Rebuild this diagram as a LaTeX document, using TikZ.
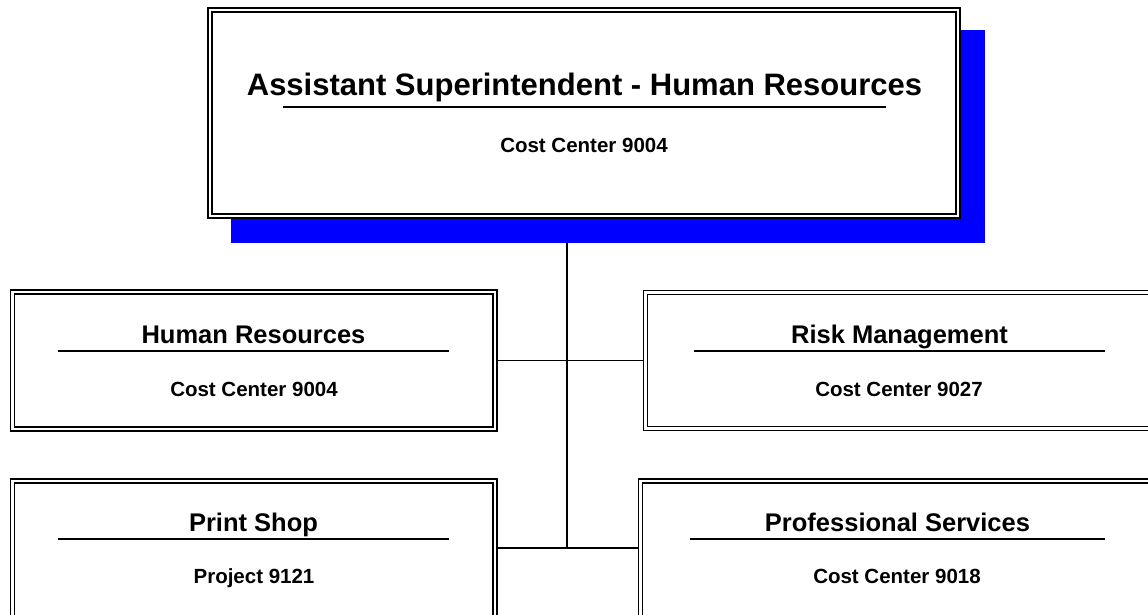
\documentclass[tikz,border=0pt]{standalone}
\usepackage{fontspec}
\setmainfont{Liberation Sans}
\usepackage{tikz}
\usetikzlibrary{positioning,backgrounds,calc}
\definecolor{shadowblue}{HTML}{0000FF}

\begin{document}
\begin{tikzpicture}[
  x=1pt, y=-1pt,
  font=\bfseries,
  orgbox/.style={
    draw=black,
    fill=white,
    double=white,
    double distance=2.2pt,
    line width=1.8pt,
    inner sep=0pt
  },
  dropshadow/.style={
    fill=shadowblue,
    inner sep=0pt
  },
  heading/.style={
    font=\bfseries\fontsize{#1}{#1}\selectfont,
    anchor=base,
    inner xsep=0pt,
    text depth=0pt
  },
  subline/.style={
    font=\bfseries\fontsize{20.5}{24}\selectfont,
    anchor=base,
    inner sep=0pt
  },
  rule/.style={line width=1.6pt},
  link/.style={line width=1.8pt}
]
  \useasboundingbox (0,0) rectangle (1148,615);

  % --- TOP: ASSISTANT SUPERINTENDENT ---
  \node[dropshadow, minimum width=754pt, minimum height=213pt] (shadow) at (608, 136.5) {};
  \node[orgbox, minimum width=748pt, minimum height=206pt] (chief) at (584, 113) {};
  \node[heading=31, inner ysep=11pt] (chiefT) at (584.5, 96)
    {Assistant Superintendent - Human Resources};
  \draw[rule] ([xshift=-301.5pt]chiefT.south) -- ([xshift=301.5pt]chiefT.south);
  \node[subline] (chiefC) at (584, 152) {Cost Center 9004};

  % --- DEPARTMENT BOXES ---
  \node[orgbox, minimum width=482.5pt, minimum height=137pt] (hr) at (253.75, 360.5) {};
  \node[heading=25.5, inner ysep=8pt] (hrT) at (253.5, 343) {Human Resources};
  \draw[rule] ([xshift=-195.5pt]hrT.south) -- ([xshift=195.5pt]hrT.south);
  \node[subline] (hrC) at (254, 396) {Cost Center 9004};

  \node[orgbox, minimum width=508pt, minimum height=136pt] (risk) at (899.5, 360.5) {};
  \node[heading=25.5, inner ysep=8pt] (riskT) at (899.5, 343) {Risk Management};
  \draw[rule] ([xshift=-205.5pt]riskT.south) -- ([xshift=205.5pt]riskT.south);
  \node[subline] (riskC) at (899, 396) {Cost Center 9027};

  \node[orgbox, minimum width=482.5pt, minimum height=137pt] (print) at (253.75, 549.5) {};
  \node[heading=25.5, inner ysep=8pt] (printT) at (253.5, 531) {Print Shop};
  \draw[rule] ([xshift=-195.5pt]printT.south) -- ([xshift=195.5pt]printT.south);
  \node[subline] (printC) at (254, 583) {Project 9121};

  \node[orgbox, minimum width=514pt, minimum height=137pt] (prof) at (897.5, 549.5) {};
  \node[heading=25.5, inner ysep=8pt] (profT) at (897.5, 531) {Professional Services};
  \draw[rule] ([xshift=-207.5pt]profT.south) -- ([xshift=207.5pt]profT.south);
  \node[subline] (profC) at (897, 583) {Cost Center 9018};

  % --- CONNECTORS (behind the boxes) ---
  \coordinate (trunk) at (567, 548);
  \begin{scope}[on background layer]
    \draw[link] (shadow.south -| trunk) -- (trunk);
    \draw[link] (hr.east) -- (risk.west);
    \draw[link] (print.east |- trunk) -- (prof.west |- trunk);
  \end{scope}
\end{tikzpicture}
\end{document}
